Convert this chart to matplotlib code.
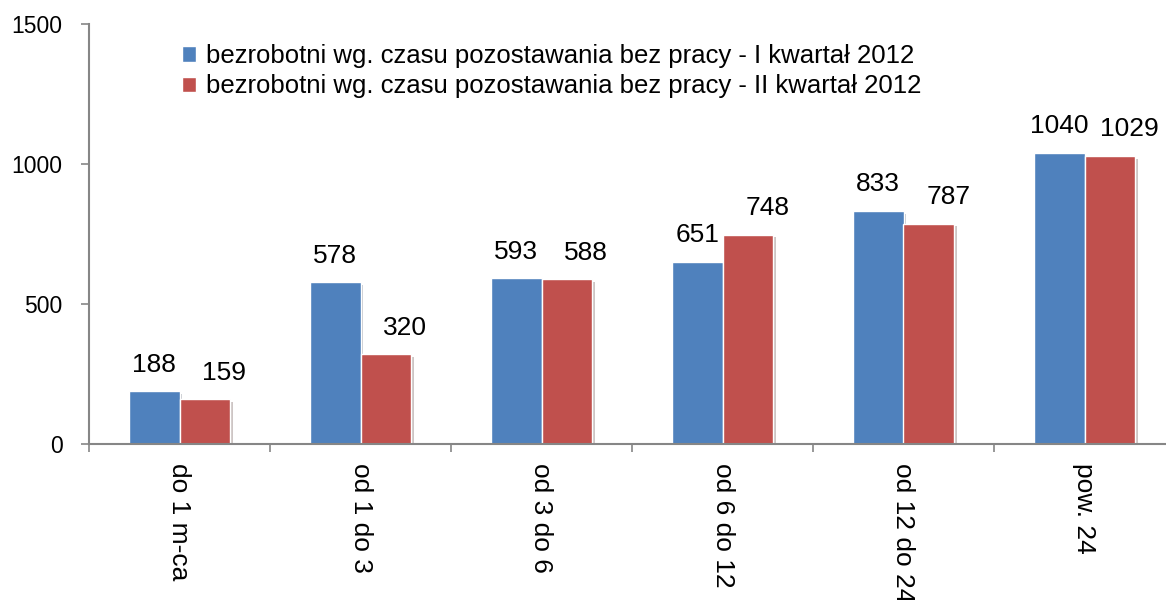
import numpy as np
import matplotlib.pyplot as plt
import matplotlib.patheffects as pe
from matplotlib.ticker import FixedLocator

# Data
categories = ["do 1 m-ca", "od 1 do 3", "od 3 do 6", "od 6 do 12", "od 12 do 24", "pow. 24"]
q1_2012 = [188, 578, 593, 651, 833, 1040]
q2_2012 = [159, 320, 588, 748, 787, 1029]
series_names = [
    "bezrobotni wg. czasu pozostawania bez pracy - I kwartał 2012",
    "bezrobotni wg. czasu pozostawania bez pracy - II kwartał 2012",
]

plt.rcParams["font.family"] = ["Liberation Sans", "DejaVu Sans"]

blue = "#4F81BD"
red = "#C0504D"
grey = "#868686"

fig = plt.figure(figsize=(11.66, 6.0), dpi=100)
ax = fig.add_axes([89 / 1166, 156 / 600, 1086 / 1166, 420 / 600])

x = np.arange(len(categories))
w = 0.28
shadow = [pe.SimplePatchShadow(offset=(2, -2), alpha=0.25), pe.Normal()]
b1 = ax.bar(x - w / 2, q1_2012, w, color=blue, edgecolor="white", linewidth=1, label=series_names[0])
b2 = ax.bar(x + w / 2, q2_2012, w, color=red, edgecolor="white", linewidth=1, label=series_names[1])
for r in list(b1) + list(b2):
    r.set_path_effects(shadow)

# value labels (second series labels sit a bit to the right, as in the original)
for bars, vals, dx in ((b1, q1_2012, 0), (b2, q2_2012, 14)):
    for rect, v in zip(bars, vals):
        ax.annotate(str(v), (rect.get_x() + rect.get_width() / 2, v),
                    xytext=(dx, 14), textcoords="offset points",
                    ha="center", va="baseline", fontsize=19)

ax.set_xlim(-0.5, len(categories) - 0.5)
ax.set_ylim(0, 1500)
ax.set_yticks([0, 500, 1000, 1500])
ax.tick_params(axis="y", length=6, width=1.2, color=grey, labelsize=16.5, pad=13)

# category boundary ticks, labels at centres
ax.xaxis.set_major_locator(FixedLocator(np.arange(len(categories) + 1) - 0.5))
ax.xaxis.set_major_formatter(plt.NullFormatter())
ax.xaxis.set_minor_locator(FixedLocator(x))
ax.set_xticklabels(categories, minor=True, rotation=270, fontsize=19,
                   va="top", ha="center")
ax.tick_params(axis="x", which="major", length=6, width=1.2, color=grey)
ax.tick_params(axis="x", which="minor", length=0, pad=14)

for s in ("top", "right"):
    ax.spines[s].set_visible(False)
for s in ("left", "bottom"):
    ax.spines[s].set_color(grey)
    ax.spines[s].set_linewidth(1.5)

leg = fig.legend(handles=[b1, b2], loc="upper left", bbox_to_anchor=(182 / 1166, 1 - 44 / 600),
                 frameon=False, fontsize=18.5,
                 handlelength=0.55, handleheight=0.55, handletextpad=0.4,
                 labelspacing=0.25, borderpad=0, borderaxespad=0)
for h in leg.legend_handles:
    h.set_path_effects([])

fig.savefig("out.png", dpi=100)
